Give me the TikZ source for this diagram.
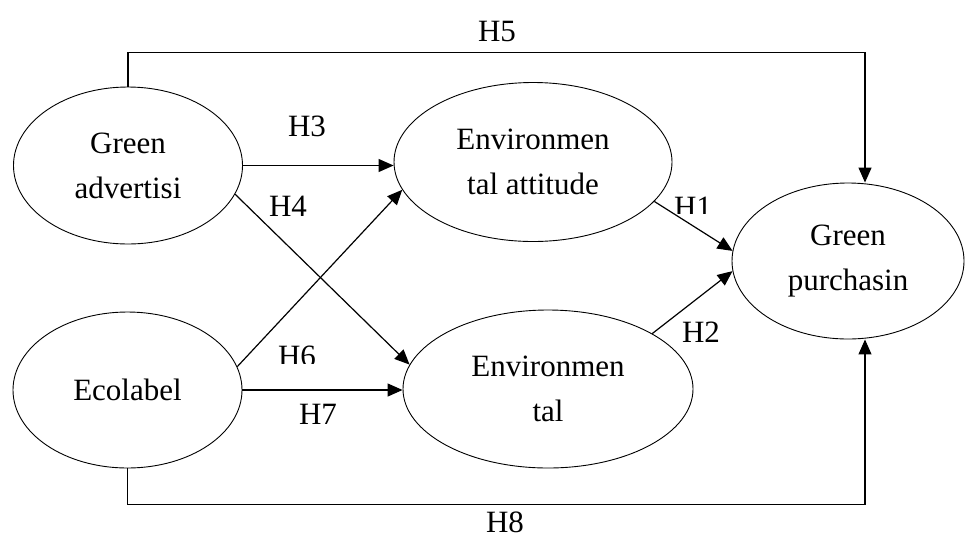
\documentclass[tikz,border=0pt]{standalone}
\usepackage{fontspec}
\setmainfont{Liberation Serif}
\usetikzlibrary{shapes.geometric,arrows.meta}
\begin{document}
\begin{tikzpicture}[x=1pt, y=-1pt,
  construct/.style={ellipse, draw, line width=0.9pt, inner sep=0pt, align=center,
    font=\fontsize{31}{45}\selectfont},
  hyp/.style={-{Triangle[length=15pt,width=13pt]}, line width=1.2pt},
  hlabel/.style={inner sep=0pt, font=\fontsize{31}{36}\selectfont}]
\useasboundingbox (0,0) rectangle (965,539);

% Constructs
\node[construct, minimum width=229pt, minimum height=157pt] (adv) at (128,165.5) {Green\\advertisi};
\node[construct, minimum width=229pt, minimum height=156pt] (eco) at (127.5,390) {Ecolabel};
\node[construct, minimum width=278pt, minimum height=159pt] (att) at (533,162) {Environmen\\tal attitude};
\node[construct, minimum width=290pt, minimum height=158pt] (env) at (548,389) {Environmen\\tal};
\node[construct, minimum width=232pt, minimum height=156pt] (pur) at (848,261) {Green\\purchasin};

% Hypothesised paths
\draw[hyp] (att.-18) -- (pur.175);
\draw[hyp] (env.28) -- (pur.185);
\draw[hyp] (adv.east) -- (adv.east -| att.west);
\draw[hyp] (adv.-15) -- (env.170);
\draw[hyp] (eco.12) -- (att.192);
\draw[hyp] (eco.east) -- (eco.east -| env.west);

% Direct paths to purchasing
\draw[hyp] (adv.north) -- ++(0,-34) -| ([xshift=17pt]pur.north);
\draw[hyp] (eco.south) -- ++(0,36) -| ([xshift=17pt]pur.south);

% Labels
\node[hlabel] (h5) at (497,31) {H5};
\node[hlabel] (h3) at (307,126) {H3};
\node[hlabel] (h4) at (288,206) {H4};
\node[hlabel] (h7) at (318,414) {H7};
\node[hlabel] (h2) at (701,332.5) {H2};
\node[hlabel] (h8) at (505,522) {H8};
\begin{scope}
  \clip (265,335) rectangle (330,363);
  \node[hlabel] (h6) at (297,356.5) {H6};
\end{scope}
\begin{scope}
  \clip (665,185) rectangle (725,213);
  \node[hlabel] (h1) at (693,207.5) {H1};
\end{scope}
\end{tikzpicture}
\end{document}
